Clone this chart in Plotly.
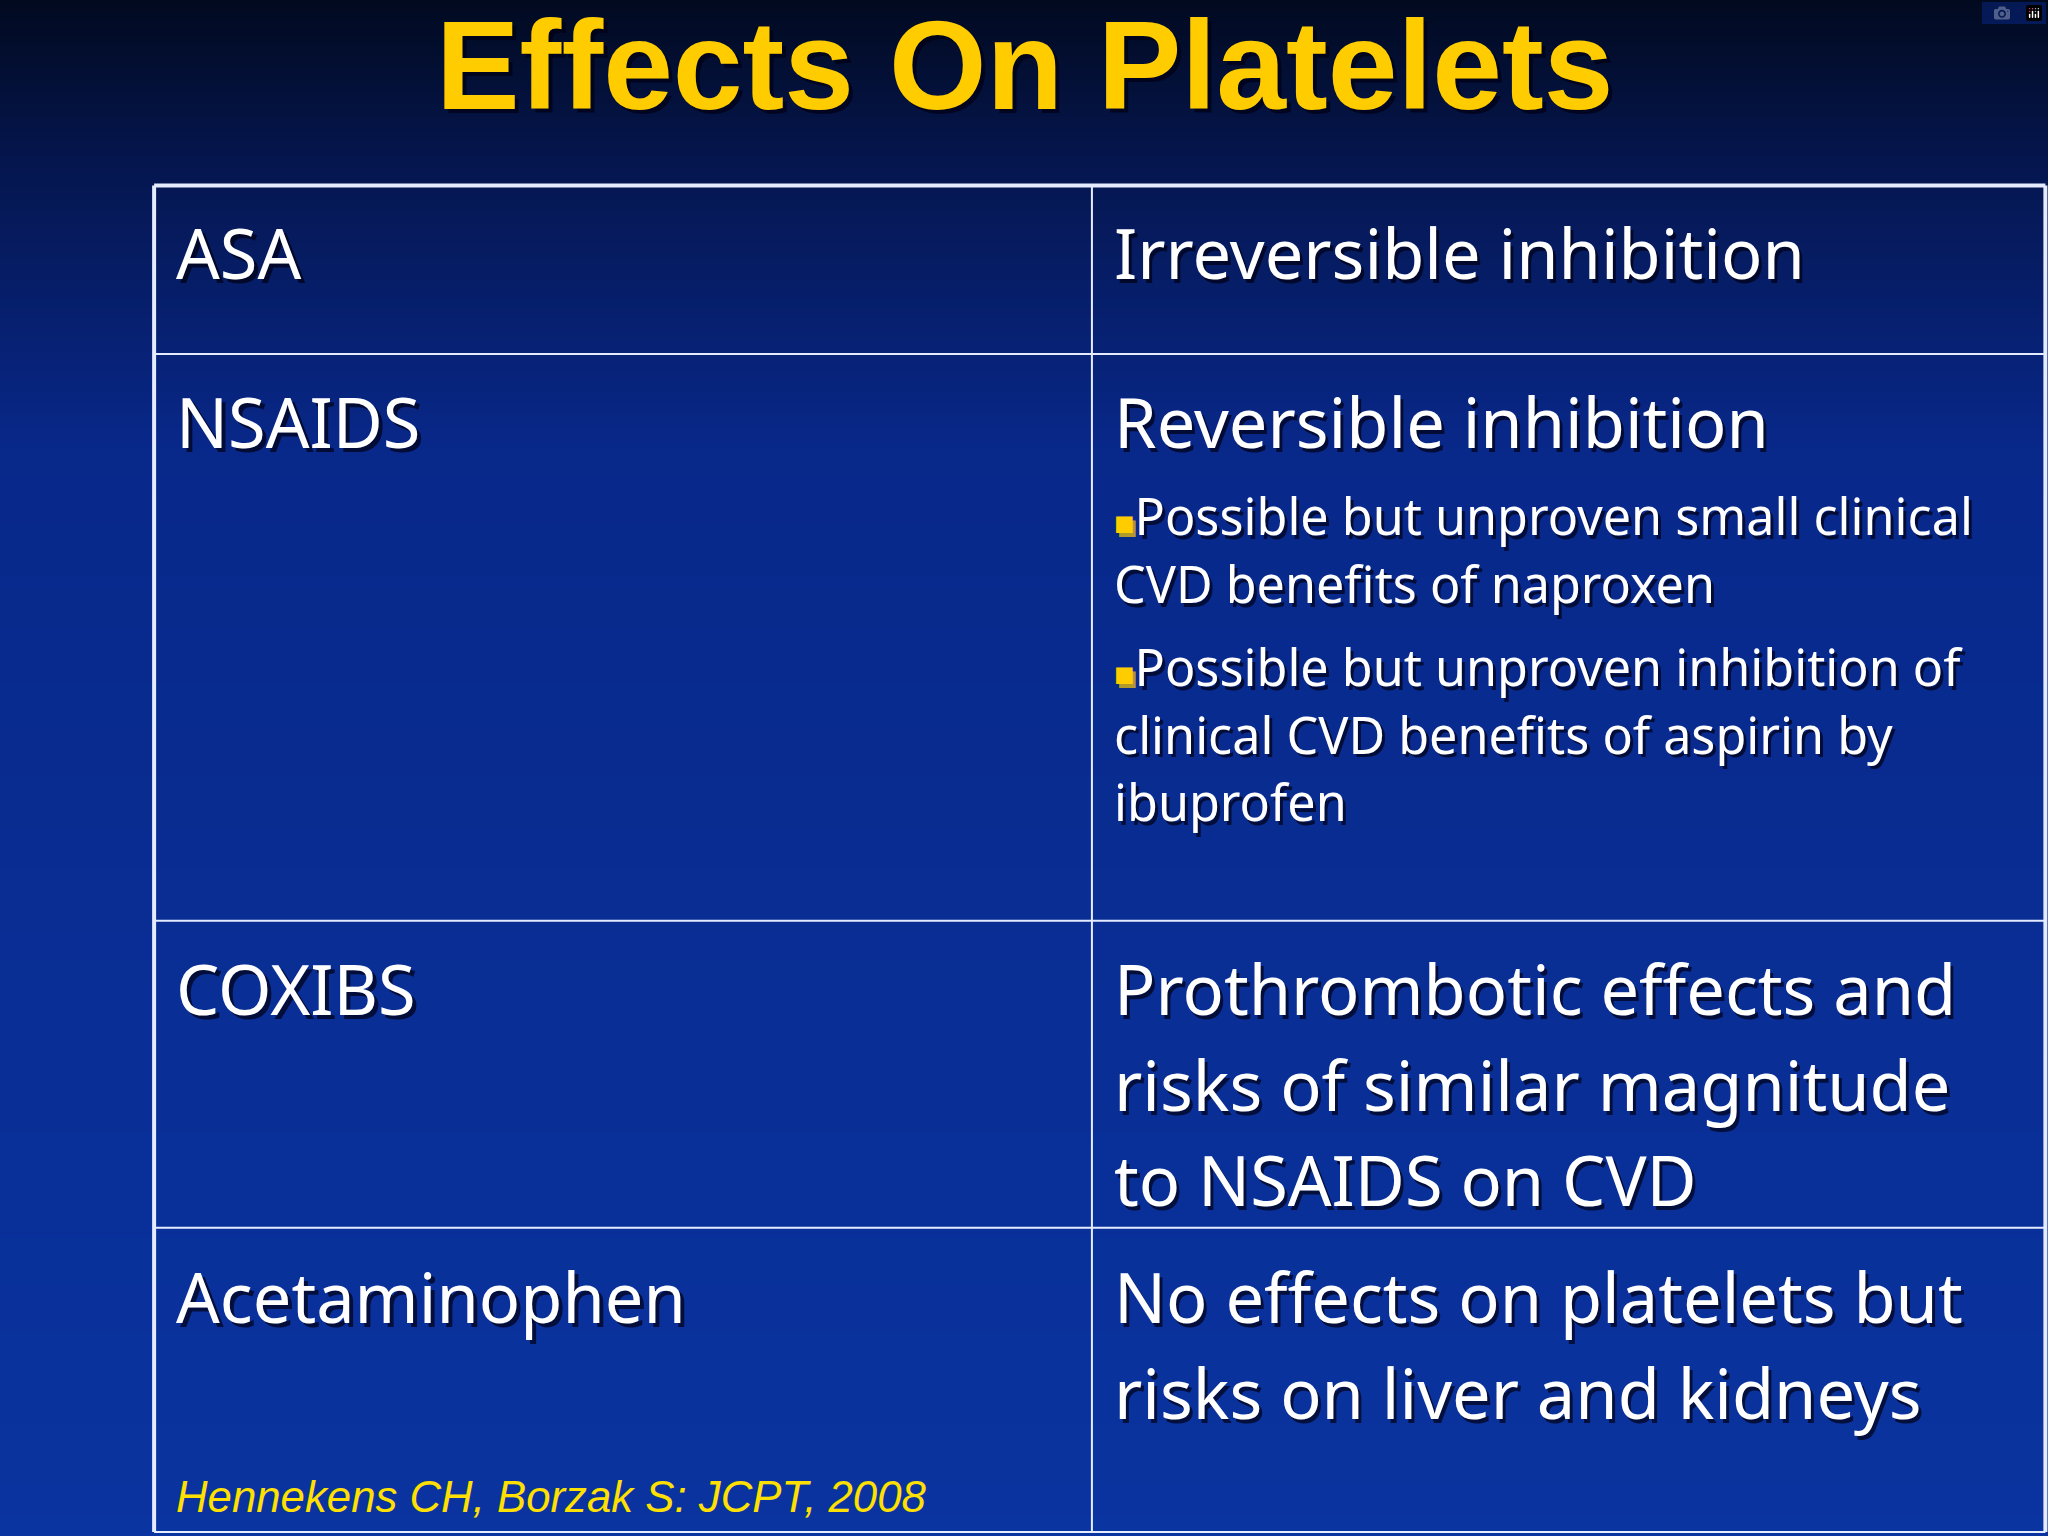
import plotly.graph_objects as go
import numpy as np

W, H = 1568, 1176
S = 2048 / W

title = "Effects On Platelets"
row_tops = [142, 271, 705, 940, 1173]
col_x = [118, 836, 1566]
left_labels = ["ASA", "NSAIDS", "COXIBS", "Acetaminophen"]
left_y = [193, 323, 757, 993]
right_main = [
    ["Irreversible inhibition"],
    ["Reversible inhibition"],
    ["Prothrombotic effects and", "risks of similar magnitude", "to NSAIDS on CVD"],
    ["No effects on platelets but", "risks on liver and kidneys"],
]
right_y = [193, 323, 757, 993]
main_spacing = 73
bullets = [
    ["Possible but unproven small clinical", "CVD benefits of naproxen"],
    ["Possible but unproven inhibition of", "clinical CVD benefits of aspirin by", "ibuprofen"],
]
bullet_y = [395, 510]
bullet_spacing = 52
citation = "Hennekens CH, Borzak S: JCPT, 2008"

fig = go.Figure()
ys = np.linspace(-20, H + 20, 60)
fig.add_trace(go.Heatmap(
    x=[-20, W + 20], y=ys, z=[[v, v] for v in ys],
    colorscale=[[0, "#010818"], [0.12, "#05164f"], [0.3, "#08288a"], [1, "#0a34a0"]],
    showscale=False, hoverinfo="skip", zsmooth="best"))

lc = "#e6ecff"
for y in row_tops:
    fig.add_shape(type="line", x0=col_x[0], x1=col_x[2], y0=y, y1=y, line=dict(color=lc, width=2 if y != row_tops[0] else 4))
for x in col_x:
    fig.add_shape(type="line", x0=x, x1=x, y0=row_tops[0], y1=row_tops[-1], line=dict(color=lc, width=2 if x == col_x[1] else 4))

def txt(x, y, t, size, color="white", family="Noto Sans", xanchor="left", shadow=True, **kw):
    if shadow:
        fig.add_annotation(x=x + 3, y=y + 3, text=t, showarrow=False, xanchor=xanchor, yanchor="middle",
                           font=dict(size=size * S, color="rgba(0,0,20,0.7)", family=family, **kw))
    fig.add_annotation(x=x, y=y, text=t, showarrow=False, xanchor=xanchor, yanchor="middle",
                       font=dict(size=size * S, color=color, family=family, **kw))

txt(785, 50, "<b>" + title + "</b>", 96, color="#FFCC00", family="Liberation Sans", xanchor="center")
for t, y in zip(left_labels, left_y):
    txt(133, y, t, 52.5)
for lines, y in zip(right_main, right_y):
    for i, t in enumerate(lines):
        txt(851, y + i * main_spacing, t, 52.5)
for lines, y in zip(bullets, bullet_y):
    for i, t in enumerate(lines):
        pre = '<span style="color:#FFCC00;font-size:34px">■</span>' if i == 0 else ""
        txt(851, y + i * bullet_spacing, pre + t, 38.5)
fig.add_annotation(x=133, y=1146, text="<i>" + citation + "</i>", showarrow=False, xanchor="left", yanchor="middle",
                   font=dict(size=33.5 * S, color="#FFE000", family="Liberation Sans"))

fig.update_xaxes(range=[0, W], visible=False, fixedrange=True)
fig.update_yaxes(range=[H, 0], visible=False, fixedrange=True)
fig.update_layout(width=2048, height=1536, margin=dict(l=0, r=0, t=0, b=0),
                  paper_bgcolor="#08288a", plot_bgcolor="#08288a", showlegend=False)
fig.write_html("out.html", post_script="document.body.style.margin='0';document.body.style.background='#08288a';")
